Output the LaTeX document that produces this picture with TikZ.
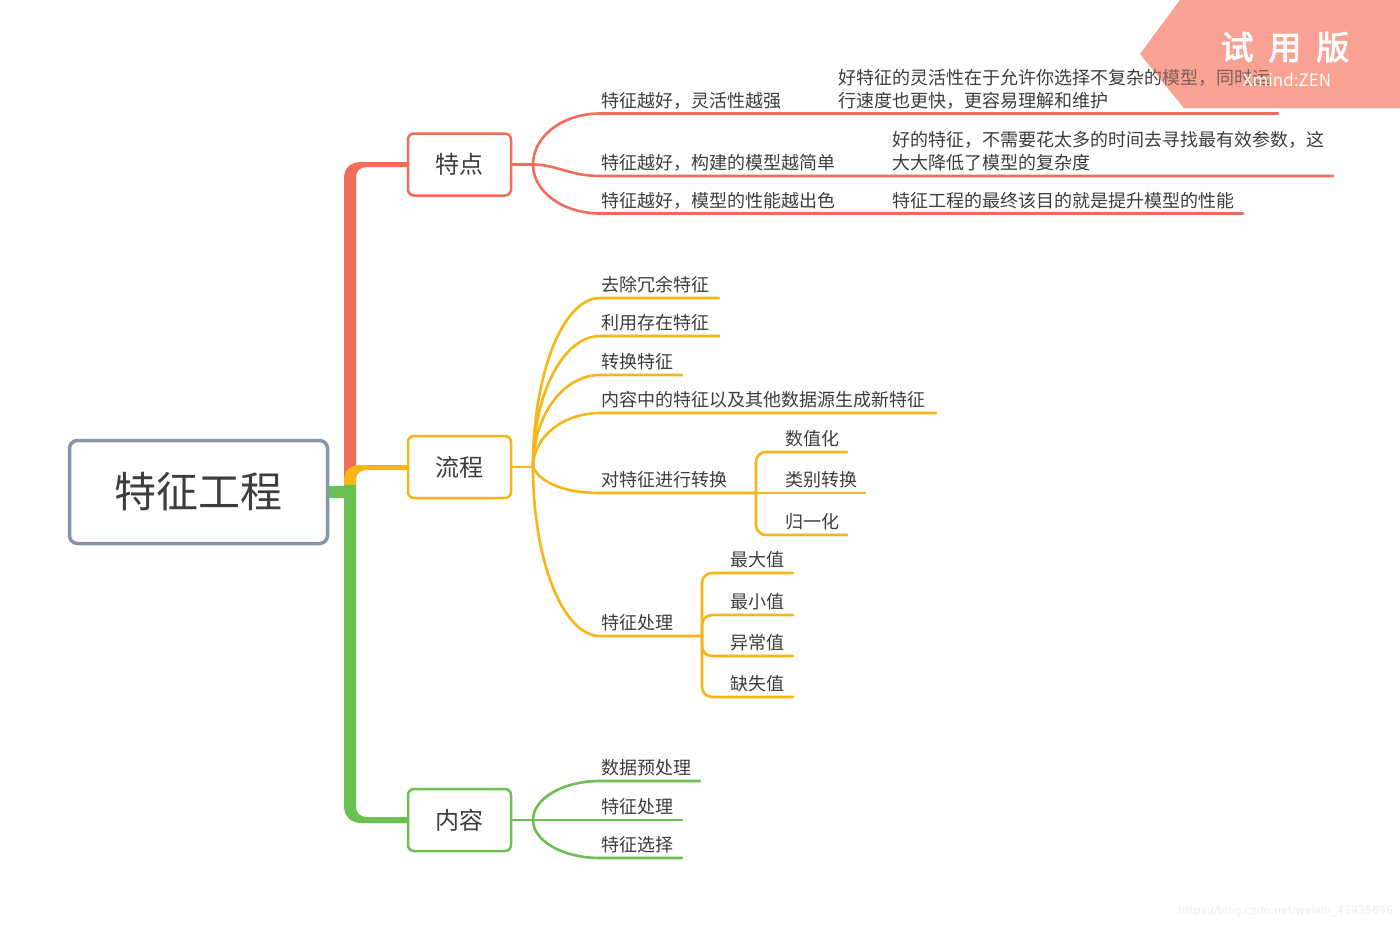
\documentclass[tikz,border=0pt]{standalone}
\usepackage{fontspec}
\setmainfont{Noto Sans CJK SC}
\newfontfamily\wmfont[FakeBold=2.5]{Noto Sans CJK SC}
\newfontfamily\urlfont{DejaVu Sans}
\definecolor{txt}{RGB}{61,61,61}
\definecolor{cred}{RGB}{242,108,90}
\definecolor{cyel}{RGB}{248,181,22}
\definecolor{cgrn}{RGB}{106,192,80}
\definecolor{rootb}{RGB}{135,149,168}
\definecolor{wmc}{RGB}{249,161,146}
\tikzset{
  leaf/.style={anchor=base west, inner sep=0pt, font=\fontsize{18}{22}\selectfont, text=txt},
  topic/.style={draw, line width=2.5pt, rounded corners=6pt, fill=white, minimum width=103pt, minimum height=62pt, inner sep=0pt, font=\fontsize{24}{28}\selectfont, text=txt},
  rootnode/.style={draw=rootb, line width=3.5pt, rounded corners=8pt, fill=white, minimum width=258pt, minimum height=103pt, inner sep=0pt, font=\fontsize{42}{48}\selectfont, text=txt},
  conn/.style={line width=2.6pt, line cap=round, line join=round},
}
\begin{document}
\begin{tikzpicture}[x=1pt,y=-1pt]
\useasboundingbox (0,0) rectangle (1400,926);
\fill[white] (0,0) rectangle (1400,926);

% watermark banner (under)
\fill[wmc] (1180,0) -- (1400,0) -- (1400,108) -- (1184,108) -- (1140,54) -- cycle;

% trunk pieces
\fill[cred] (344,478) -- (344,179) .. controls (344,168) and (350,162) .. (362,162) -- (407,162) -- (407,167) -- (368,167) .. controls (360,167) and (356,170.5) .. (356,178) -- (356,478) -- cycle;
\fill[cyel] (344,486) -- (344,481) .. controls (344,470) and (350,465) .. (362,465) -- (407,465) -- (407,470) -- (368,470) .. controls (360,470) and (356,473) .. (356,480) -- (356,486) -- cycle;
\fill[cgrn] (344,485) -- (344,805) .. controls (344,816) and (350,823) .. (362,823) -- (407,823) -- (407,817) -- (368,817) .. controls (360,817) and (356,813.5) .. (356,806) -- (356,485) -- cycle;
\fill[cgrn] (325,486) rectangle (356,498);

% nodes
\node[rootnode] (root) at (198.5,492) {特征工程};
\node[topic, draw=cred] (t1) at (459.5,164.5) {特点};
\node[topic, draw=cyel] (t2) at (459.5,467) {流程};
\node[topic, draw=cgrn] (t3) at (459.5,820) {内容};

% ---- 特点 ----
\coordinate (j1) at (533,164.5);
\draw[conn,cred] (t1.east) -- (j1);
\draw[conn,cred] (j1) .. controls (533,136) and (563,113.5) .. (600,113.5) -- (1278,113.5);
\draw[conn,cred] (j1) .. controls (556,164.5) and (570,176) .. (600,176) -- (1333,176);
\draw[conn,cred] (j1) .. controls (533,191.5) and (563,213.5) .. (600,213.5) -- (1243,213.5);
\node[leaf] (a1) at (601,107) {特征越好，灵活性越强};
\node[leaf] (a1n1) at (838,84) {好特征的灵活性在于允许你选择不复杂的模型，同时运};
\node[leaf] (a1n2) at (838,107) {行速度也更快，更容易理解和维护};
\node[leaf] (a2) at (601,169.5) {特征越好，构建的模型越简单};
\node[leaf] (a2n1) at (892,146) {好的特征，不需要花太多的时间去寻找最有效参数，这};
\node[leaf] (a2n2) at (892,169.5) {大大降低了模型的复杂度};
\node[leaf] (a3) at (601,207) {特征越好，模型的性能越出色};
\node[leaf] (a3n) at (892,207) {特征工程的最终该目的就是提升模型的性能};

% ---- 流程 ----
\coordinate (j2) at (533,467);
\draw[conn,cyel] (t2.east) -- (j2);
\draw[conn,cyel] (j2) .. controls (533,373.7) and (563,298) .. (600,298) -- (719,298);
\draw[conn,cyel] (j2) .. controls (533,394.7) and (563,336) .. (600,336) -- (719,336);
\draw[conn,cyel] (j2) .. controls (533,416.2) and (563,375) .. (600,375) -- (682,375);
\draw[conn,cyel] (j2) .. controls (533,437.2) and (563,413) .. (600,413) -- (936,413);
\coordinate (s1) at (756,493);
\draw[conn,cyel] (j2) .. controls (540,482) and (563,493) .. (600,493) -- (s1);
\coordinate (s2) at (702,636);
\draw[conn,cyel] (j2) .. controls (533,560.3) and (563,636) .. (600,636) -- (s2);
\node[leaf] (b1) at (601,291.5) {去除冗余特征};
\node[leaf] (b2) at (601,329.5) {利用存在特征};
\node[leaf] (b3) at (601,368.5) {转换特征};
\node[leaf] (b4) at (601,406.5) {内容中的特征以及其他数据源生成新特征};
\node[leaf] (b5) at (601,486.5) {对特征进行转换};
\node[leaf] (b6) at (601,629.5) {特征处理};

\draw[conn,cyel,rounded corners=10pt] (s1) -- (756,452) -- (847,452);
\draw[conn,cyel] (s1) -- (865,493);
\draw[conn,cyel,rounded corners=10pt] (s1) -- (756,535) -- (847,535);
\node[leaf] (c1) at (785,445.5) {数值化};
\node[leaf] (c2) at (785,486.5) {类别转换};
\node[leaf] (c3) at (785,528.5) {归一化};

\draw[conn,cyel,rounded corners=10pt] (s2) -- (702,573) -- (793,573);
\draw[conn,cyel,rounded corners=10pt] (s2) -- (702,615) -- (793,615);
\draw[conn,cyel,rounded corners=10pt] (s2) -- (702,656) -- (793,656);
\draw[conn,cyel,rounded corners=10pt] (s2) -- (702,697) -- (793,697);
\node[leaf] (d1) at (730,566.5) {最大值};
\node[leaf] (d2) at (730,608.5) {最小值};
\node[leaf] (d3) at (730,649.5) {异常值};
\node[leaf] (d4) at (730,690.5) {缺失值};

% ---- 内容 ----
\coordinate (j3) at (533,820);
\draw[conn,cgrn] (t3.east) -- (j3);
\draw[conn,cgrn] (j3) .. controls (533,798.5) and (563,781) .. (600,781) -- (700,781);
\draw[conn,cgrn] (j3) -- (682,820);
\draw[conn,cgrn] (j3) .. controls (533,841) and (563,858) .. (600,858) -- (682,858);
\node[leaf] (e1) at (601,774.5) {数据预处理};
\node[leaf] (e2) at (601,813.5) {特征处理};
\node[leaf] (e3) at (601,851.5) {特征选择};

% watermark overlay and texts
\fill[wmc, opacity=0.35] (1180,0) -- (1400,0) -- (1400,108) -- (1184,108) -- (1140,54) -- cycle;
\node[text=white, inner sep=0pt, font=\wmfont\fontsize{33}{36}\selectfont] (wm1) at (1285,47) {试\hspace{0.45em}用\hspace{0.45em}版};
\node[text=white, inner sep=0pt, font=\fontsize{17}{20}\selectfont] (wm2) at (1287,80) {Xmind:ZEN};
\node[text=black!7, anchor=east, inner sep=0pt, font=\urlfont\fontsize{11}{13}\selectfont] (url) at (1393,912) {https://blog.csdn.net/weixin\_43935696};
\end{tikzpicture}
\end{document}
